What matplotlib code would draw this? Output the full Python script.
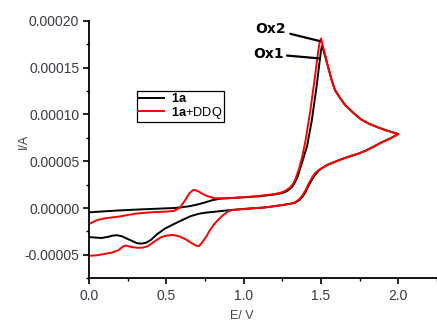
import numpy as np
import matplotlib
matplotlib.use("Agg")
import matplotlib.pyplot as plt

plt.rcParams['font.family'] = ['Liberation Sans', 'DejaVu Sans']
plt.rcParams['mathtext.fontset'] = 'custom'
plt.rcParams['mathtext.bf'] = 'Liberation Sans:bold'
plt.rcParams['mathtext.rm'] = 'Liberation Sans'

# current values, in units of 1e-5 A
# 1a : forward scan then reverse scan
e_1a = [0.00, 0.10, 0.20, 0.30, 0.40, 0.50, 0.55, 0.60, 0.65, 0.70, 0.75, 0.80,
        0.85, 0.90, 1.00, 1.10, 1.20, 1.25, 1.28, 1.31, 1.33, 1.35, 1.38, 1.41,
        1.44, 1.47, 1.49, 1.50, 1.506, 1.515, 1.53, 1.54, 1.55, 1.57, 1.59, 1.625,
        1.656, 1.70, 1.73, 1.76, 1.81, 1.87, 1.93, 1.97, 2.00,
        1.95, 1.89, 1.84, 1.785, 1.74, 1.70, 1.63, 1.60, 1.57, 1.54, 1.52, 1.50,
        1.48, 1.46, 1.44, 1.42, 1.40, 1.38, 1.36, 1.33, 1.30, 1.20, 1.14, 1.00,
        0.925, 0.81, 0.75, 0.713, 0.66, 0.617, 0.55, 0.49, 0.44, 0.40, 0.37, 0.34,
        0.31, 0.29, 0.25, 0.21, 0.18, 0.15, 0.13, 0.08, 0.04, 0.00]
i_1a = [-0.46, -0.35, -0.25, -0.17, -0.10, -0.03, 0.0, 0.08, 0.2, 0.37, 0.6, 0.85,
        1.0, 1.05, 1.15, 1.25, 1.45, 1.6, 1.8, 2.2, 2.7, 3.4, 5.0, 6.6,
        9.3, 12.8, 15.5, 16.8, 17.3, 16.9, 16.0, 15.4, 14.8, 13.6, 12.6, 11.7,
        11.0, 10.3, 9.85, 9.45, 9.0, 8.6, 8.25, 8.05, 7.9,
        7.45, 7.0, 6.55, 6.1, 5.8, 5.6, 5.2, 5.0, 4.8, 4.6, 4.4, 4.2,
        3.9, 3.5, 3.0, 2.4, 1.7, 1.2, 0.85, 0.55, 0.45, 0.2, 0.07, -0.1,
        -0.2, -0.4, -0.5, -0.6, -0.85, -1.17, -1.7, -2.2, -2.8, -3.4, -3.7, -3.8,
        -3.75, -3.6, -3.3, -3.0, -2.9, -2.95, -3.05, -3.2, -3.15, -3.1]

# 1a + DDQ : forward scan then reverse scan
e_ddq = [0.00, 0.05, 0.10, 0.19, 0.30, 0.40, 0.50, 0.55, 0.585, 0.62, 0.65, 0.675,
         0.69, 0.71, 0.73, 0.76, 0.81, 0.90, 1.00, 1.10, 1.20, 1.24, 1.27, 1.30,
         1.32, 1.335, 1.36, 1.38, 1.40, 1.43, 1.46, 1.48, 1.49, 1.50, 1.51, 1.53,
         1.54, 1.55, 1.57, 1.59, 1.625, 1.656, 1.70, 1.73, 1.76, 1.81, 1.87, 1.93,
         1.97, 2.00,
         1.95, 1.89, 1.84, 1.785, 1.74, 1.70, 1.63, 1.60, 1.57, 1.54, 1.52, 1.50,
         1.48, 1.46, 1.44, 1.42, 1.40, 1.38, 1.36, 1.33, 1.30, 1.20, 1.14, 1.00,
         0.93, 0.90, 0.88, 0.86, 0.84, 0.81, 0.78, 0.76, 0.73, 0.71, 0.69, 0.67,
         0.645, 0.62, 0.58, 0.54, 0.50, 0.467, 0.42, 0.38, 0.35, 0.315, 0.27, 0.24,
         0.22, 0.19, 0.15, 0.10, 0.05, 0.00]
i_ddq = [-1.7, -1.3, -1.1, -0.92, -0.6, -0.45, -0.38, -0.3, 0.0, 0.8, 1.6, 1.94,
         1.9, 1.75, 1.55, 1.3, 1.05, 1.05, 1.15, 1.3, 1.5, 1.65, 1.85, 2.2,
         2.6, 3.1, 4.3, 5.6, 7.2, 10.3, 13.9, 16.5, 17.6, 18.1, 17.4, 16.2,
         15.4, 14.8, 13.6, 12.6, 11.7, 11.0, 10.3, 9.85, 9.45, 9.0, 8.6, 8.25,
         8.05, 7.9,
         7.45, 7.0, 6.55, 6.1, 5.8, 5.6, 5.2, 5.0, 4.8, 4.6, 4.4, 4.2,
         4.0, 3.7, 3.2, 2.6, 1.9, 1.35, 0.95, 0.6, 0.45, 0.2, 0.07, -0.1,
         -0.2, -0.35, -0.6, -0.85, -1.17, -1.7, -2.4, -3.0, -3.7, -4.07, -4.0, -3.8,
         -3.55, -3.3, -3.0, -2.87, -2.95, -3.1, -3.6, -4.07, -4.22, -4.25, -4.15, -4.0,
         -4.1, -4.5, -4.75, -4.9, -5.05, -5.1]

x_ticks = [0.0, 0.5, 1.0, 1.5, 2.0]
y_ticks = [-0.00005, 0.0, 0.00005, 0.00010, 0.00015, 0.00020]

fig = plt.figure(figsize=(4.37, 3.23), dpi=100)
ax = fig.add_axes([0.2037, 0.1384, 0.7963, 0.7975])

ax.plot(e_1a, np.array(i_1a) * 1e-5, color='black', lw=1.4, label=r'$\mathbf{1a}$')
ax.plot(e_ddq, np.array(i_ddq) * 1e-5, color='red', lw=1.4, label=r'$\mathbf{1a}$+DDQ')

ax.set_xlim(0, 2.236)
ax.set_ylim(-0.0000733, 0.0002)
ax.set_xticks(x_ticks)
ax.set_xticklabels(['%.1f' % v for v in x_ticks])
ax.set_yticks(y_ticks)
ax.set_yticklabels(['%.5f' % v for v in y_ticks])
ax.set_xticks(np.arange(0.25, 2.3, 0.5), minor=True)
ax.set_yticks(np.arange(-0.000075, 0.0002, 0.00005), minor=True)

for s in ['top', 'right']:
    ax.spines[s].set_visible(False)
for s in ['left', 'bottom']:
    ax.spines[s].set_linewidth(1.3)
ax.tick_params(which='major', direction='out', length=4, width=1.2,
               labelsize=10, labelcolor='#3a3a48', pad=3)
ax.tick_params(which='minor', direction='out', length=2.5, width=1.0)
ax.tick_params(axis='x', which='major', pad=4)

ax.set_xlabel('E/ V', fontsize=9, color='#444444')
ax.set_ylabel('I/A', fontsize=9, color='#444444')
ax.xaxis.set_label_coords(0.44, -0.125)
ax.yaxis.set_label_coords(-0.17, 0.53)

leg = fig.legend(loc='upper left', bbox_to_anchor=(0.3135, 0.718), fontsize=9.2,
                 frameon=True, fancybox=False, edgecolor='black', framealpha=1,
                 handlelength=2.0, handletextpad=0.6, labelspacing=-0.02,
                 borderpad=0.08, borderaxespad=0)
leg.get_frame().set_linewidth(0.9)

ax.annotate('Ox2', xy=(1.491, 0.0001783), xytext=(1.176, 0.0001911),
            ha='center', va='center', fontsize=10, fontweight='bold',
            family='DejaVu Sans',
            arrowprops=dict(arrowstyle='-', lw=1.6, color='black', shrinkA=1, shrinkB=0))
ax.annotate('Ox1', xy=(1.485, 0.0001598), xytext=(1.163, 0.0001645),
            ha='center', va='center', fontsize=10, fontweight='bold',
            family='DejaVu Sans',
            arrowprops=dict(arrowstyle='-', lw=1.6, color='black', shrinkA=0, shrinkB=0))

fig.savefig('out.png', dpi=100)
